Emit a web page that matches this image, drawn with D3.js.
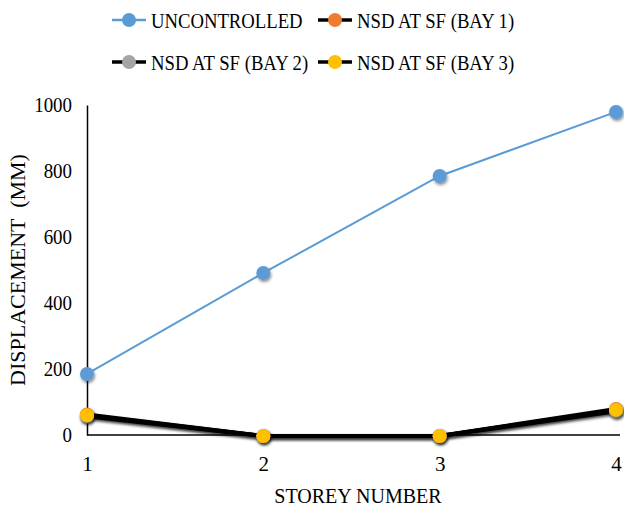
<!DOCTYPE html>
<html><head><meta charset="utf-8">
<script src="https://cdn.jsdelivr.net/npm/d3@7"></script>
</head><body style="margin:0">
<svg id="c" width="624" height="507" font-family="Liberation Serif" style="font-family:'Liberation Serif'"></svg>
<script>
const storeys = [1, 2, 3, 4];
const uncontrolled = [185, 491, 785, 979];
const bay1 = [62, -3, -3, 79];
const bay2 = [57, -3, -3, 72];
const bay3 = [60, -3, -3, 76];
const yTicks = [0, 200, 400, 600, 800, 1000];
const seriesNames = ["UNCONTROLLED", "NSD AT SF (BAY 1)", "NSD AT SF (BAY 2)", "NSD AT SF (BAY 3)"];

const series = [
  {name: seriesNames[0], values: uncontrolled, line: "#5B9BD5", marker: "#5B9BD5", w: 2},
  {name: seriesNames[1], values: bay1, line: "#000", marker: "#ED7D31", w: 4},
  {name: seriesNames[2], values: bay2, line: "#000", marker: "#A5A5A5", w: 4},
  {name: seriesNames[3], values: bay3, line: "#000", marker: "#FFC000", w: 4}
];

const svg = d3.select("#c");
const x = d3.scaleLinear().domain([1, 4]).range([87, 616]);
const y = d3.scaleLinear().domain([0, 1000]).range([435, 105]);
function serif(sel, size) {
  sel.attr("font-family", null).style("font-family", '"Liberation Serif"').style("font-size", size + "px");
  return sel;
}
function squeeze(sel, k) {
  sel.each(function () {
    const len = this.getComputedTextLength();
    d3.select(this).attr("textLength", len * k).attr("lengthAdjust", "spacingAndGlyphs");
  });
  return sel;
}

const defs = svg.append("defs");
const f = defs.append("filter").attr("id", "sh").attr("x", "-50%").attr("y", "-50%").attr("width", "200%").attr("height", "200%");
f.append("feDropShadow").attr("dx", 1).attr("dy", 2).attr("stdDeviation", 1.5).attr("flood-color", "#000").attr("flood-opacity", 0.45);

// axes
const yAxis = d3.axisLeft(y).tickValues(yTicks).tickFormat(d3.format("d")).tickSize(0).tickPadding(15);
const gy = svg.append("g").attr("transform", `translate(${x(1)},0)`).call(yAxis);
gy.attr("font-family", null).attr("font-size", null);
gy.select(".domain").attr("stroke", "#000").attr("stroke-width", 1.5);
squeeze(serif(gy.selectAll("text"), 21).attr("fill", "#000"), 0.9);

const xAxis = d3.axisBottom(x).tickValues(storeys).tickFormat(d3.format("d")).tickSize(0).tickPadding(21);
const gx = svg.append("g").attr("transform", `translate(0,${y(0)})`).call(xAxis);
gx.attr("font-family", null).attr("font-size", null);
gx.select(".domain").attr("stroke", "#000").attr("stroke-width", 1.5).attr("d", `M${x(1)},0H620`);
serif(gx.selectAll("text"), 21).attr("fill", "#000");

squeeze(serif(svg.append("text").attr("x", 358).attr("y", 503).attr("text-anchor", "middle"), 22).text("STOREY NUMBER"), 0.91);
serif(svg.append("text").attr("transform", "translate(25,270) rotate(-90)").attr("text-anchor", "middle"), 22)
  .style("white-space", "pre").text("DISPLACEMENT  (MM)");

const line = d3.line().x((d, i) => x(storeys[i])).y(d => y(d));

const order = [1, 2, 3, 0];
order.forEach(k => {
  const s = series[k];
  svg.append("path").attr("d", line(s.values)).attr("fill", "none")
    .attr("stroke", s.line).attr("stroke-width", s.w)
    .attr("filter", k === 0 ? null : "url(#sh)");
});
order.forEach(k => {
  const s = series[k];
  svg.append("g").selectAll("circle").data(s.values).join("circle")
    .attr("cx", (d, i) => x(storeys[i])).attr("cy", d => y(d)).attr("r", 7)
    .attr("fill", s.marker).attr("filter", "url(#sh)");
});

// legend
const legPos = [[112, 20], [318, 20], [112, 62], [318, 62]];
series.forEach((s, i) => {
  const [lx, ly] = legPos[i];
  const g = svg.append("g").attr("transform", `translate(${lx},${ly})`);
  g.append("line").attr("x1", 0).attr("x2", 34).attr("y1", 0).attr("y2", 0)
    .attr("stroke", s.line).attr("stroke-width", s.w === 2 ? 2.5 : 3.5);
  g.append("circle").attr("cx", 17).attr("cy", 0).attr("r", 7).attr("fill", s.marker);
  squeeze(serif(g.append("text").attr("x", 39).attr("y", 8), 21).attr("fill", "#000").text(s.name), 0.89);
});
</script>
</body></html>
